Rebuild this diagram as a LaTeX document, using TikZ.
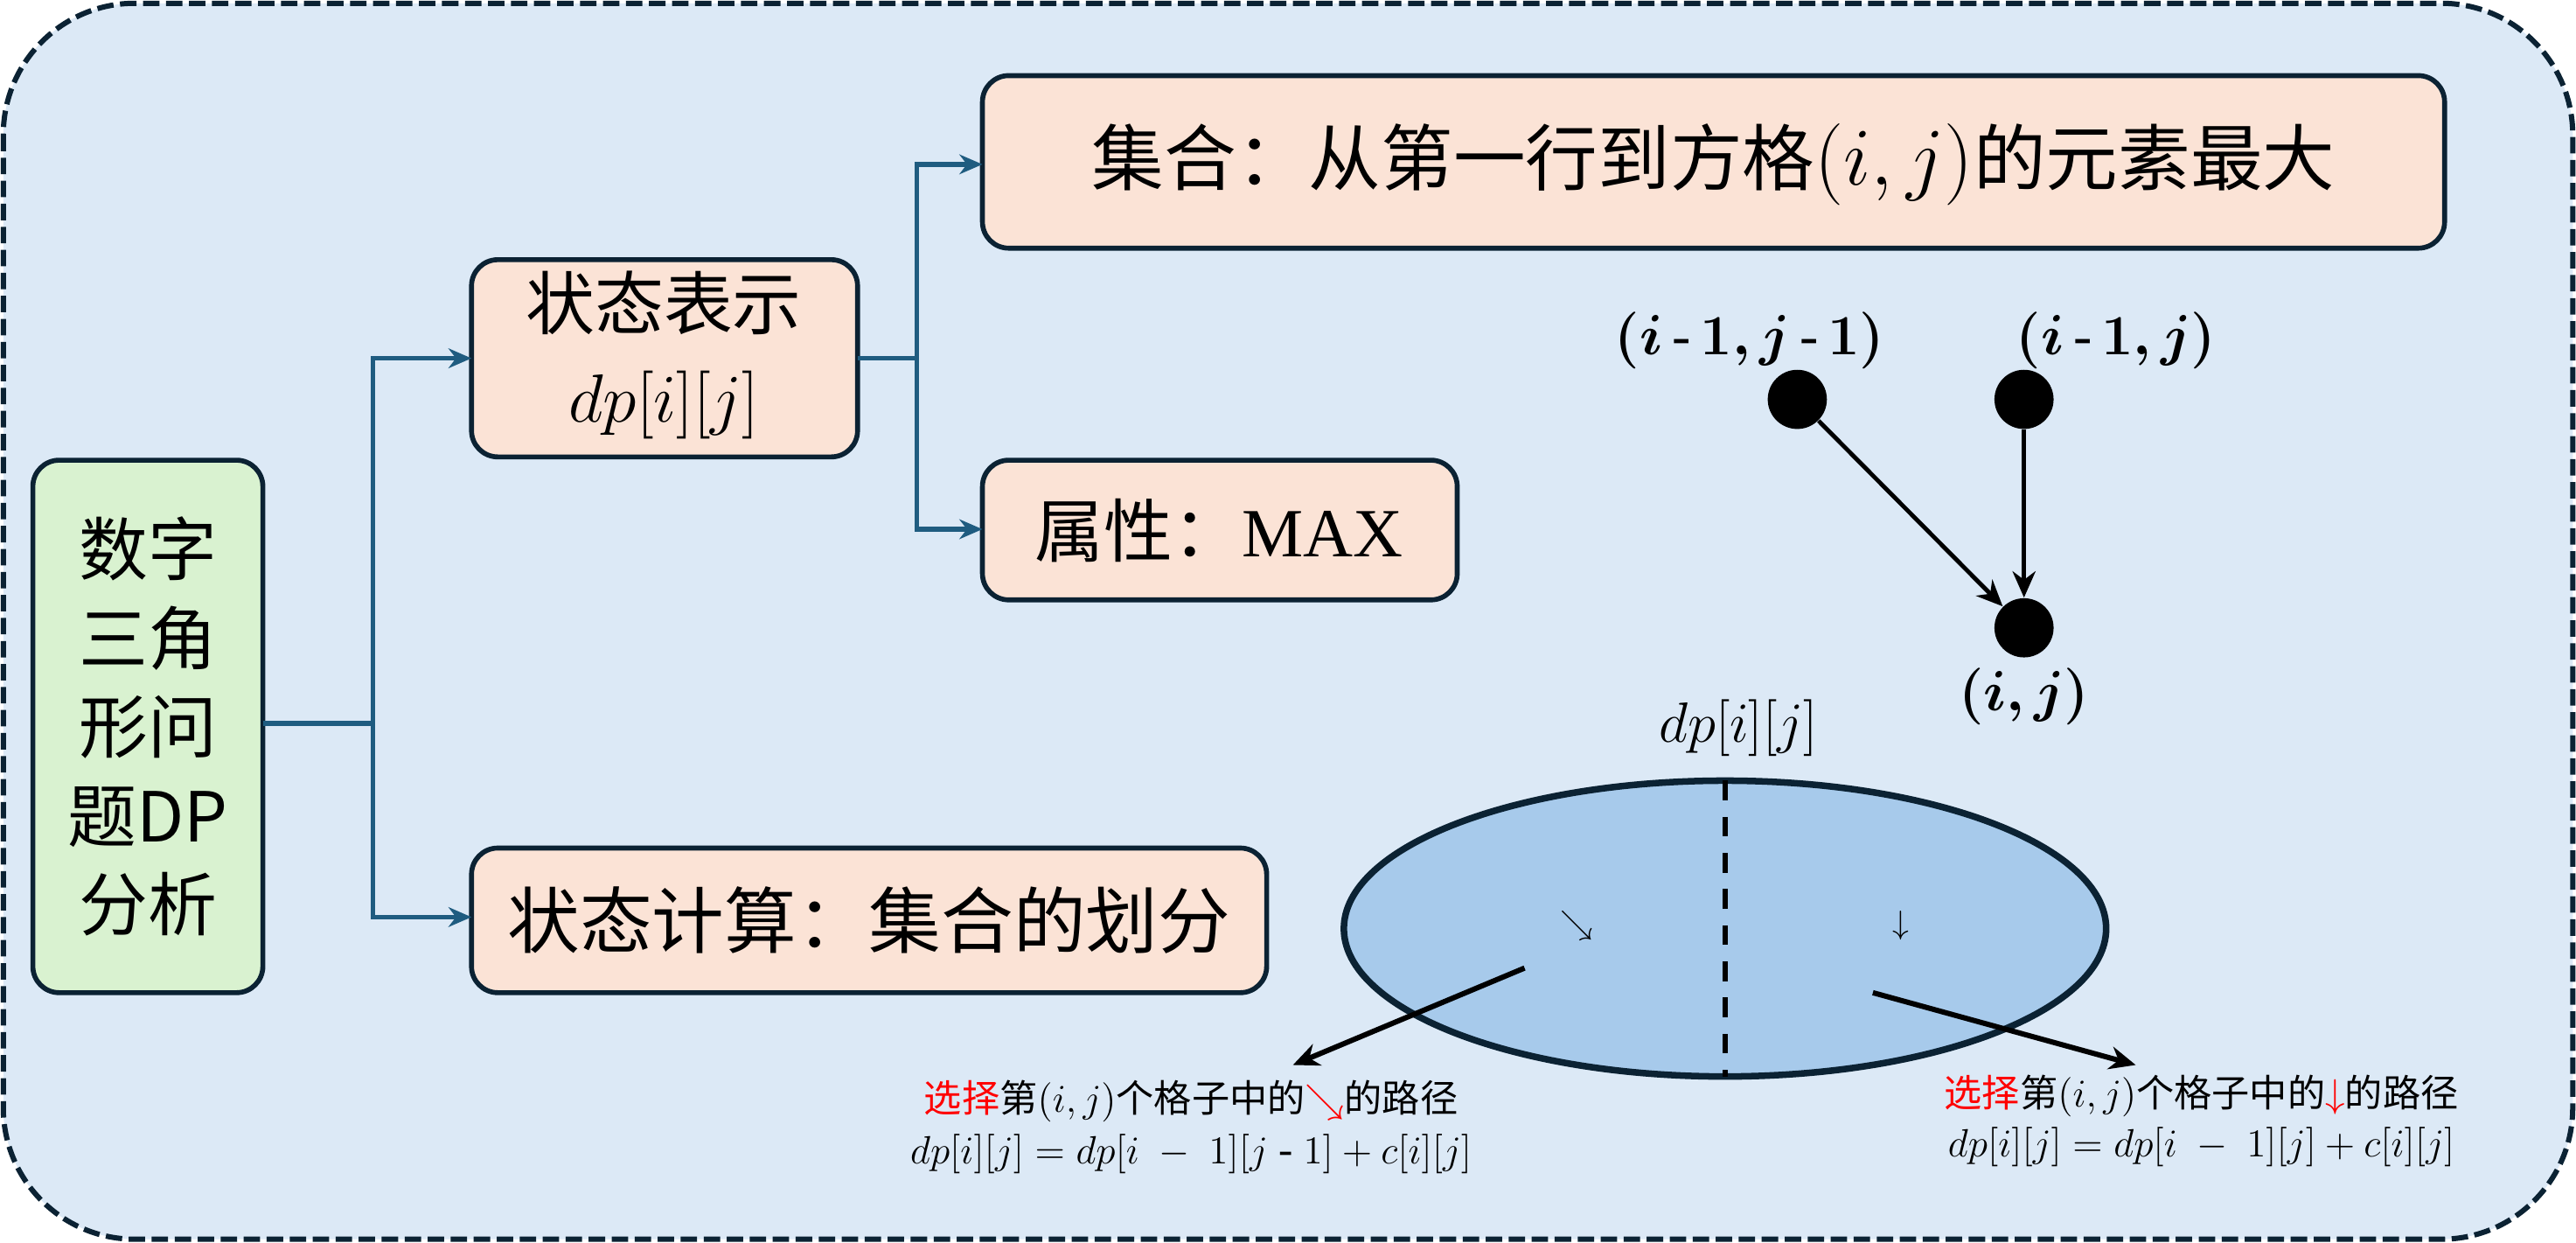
\documentclass[tikz,border=0pt]{standalone}
\usepackage{fontspec}
\usepackage{amsmath,bm}
\setmainfont{Liberation Serif}
\newfontfamily\cjk{Noto Sans CJK SC}
\usetikzlibrary{arrows.meta}
\definecolor{bgc}{HTML}{DCE9F6}
\definecolor{navy}{HTML}{0B2233}
\definecolor{boxc}{HTML}{FBE3D6}
\definecolor{greenc}{HTML}{D9F2D0}
\definecolor{linkc}{HTML}{1F5C80}
\definecolor{ellc}{HTML}{A7CAEB}
\begin{document}
\begin{tikzpicture}[x=0.5pt,y=-0.5pt,
  bx/.style={draw=navy,line width=1.5pt,fill=boxc,rounded corners=8pt},
  lnk/.style={draw=linkc,line width=1.5pt},
  lnka/.style={lnk,-{Stealth[length=7pt,width=6pt]}},
  txt/.style={font=\cjk\fontsize{21}{26}\selectfont,align=center},
  dot/.style={circle,fill=black,minimum size=18pt,inner sep=0pt},
  blk/.style={black,line width=1.3pt,-{Stealth[length=8pt,width=7pt]}},
  lab/.style={font=\fontsize{17}{20}\selectfont},
  small/.style={font=\cjk\fontsize{11.5}{14}\selectfont,align=center},
  smallm/.style={font=\fontsize{13}{15}\selectfont}]
\useasboundingbox (0,0) rectangle (1568,756);
\draw[fill=bgc,draw=navy,line width=1.6pt,dashed,dash pattern=on 5pt off 2pt,rounded corners=40pt] (2,2) rectangle (1566,754);
% boxes
\draw[draw=navy,line width=1.5pt,fill=greenc,rounded corners=8pt] (20,280) rectangle (160,604);
\node[txt,font=\cjk\fontsize{21}{27}\selectfont] (g) at (90,442) {数字\\三角\\形问\\题DP\\分析};
\coordinate (gr) at (160,440);
\draw[bx] (287,158) rectangle (522,278);
\node[txt,font=\cjk\fontsize{21}{28}\selectfont] (s) at (404,216) {状态表示\\$\fontsize{23}{28}\selectfont dp[i][j]$};
\coordinate (sr) at (522,218);
\draw[bx] (598,46) rectangle (1488,151);
\node[txt,font=\cjk\fontsize{22}{26}\selectfont] (j) at (1043,100) {集合：从第一行到方格{\fontsize{24}{26}\selectfont$(i,j)$}的元素最大};
\draw[bx] (598,280) rectangle (887,365);
\node[txt] (m) at (742,323) {属性：{\rmfamily MAX}};
\draw[bx] (287,516) rectangle (771,604);
\node[txt,font=\cjk\fontsize{22}{26}\selectfont] (c) at (529,560) {状态计算：集合的划分};
% connectors
\coordinate (t1) at (287,218); \coordinate (t2) at (287,558);
\coordinate (u1) at (598,100); \coordinate (u2) at (598,322);
\draw[lnk] (gr) -- (227,440);
\draw[lnka] (227,440) |- (t1);
\draw[lnka] (227,440) |- (t2);
\draw[lnk] (sr) -- (558,218);
\draw[lnka] (558,218) |- (u1);
\draw[lnka] (558,218) |- (u2);
% dots
\node[dot] (a) at (1094,243) {};
\node[dot] (b) at (1232,243) {};
\node[dot] (d) at (1232,382) {};
\node[lab] (la) at (1065,207) {$\bm{(i\,\text{-}\,1,j\,\text{-}\,1)}$};
\node[lab] (lb) at (1288,207) {$\bm{(i\,\text{-}\,1,j)}$};
\node[lab] (ld) at (1232,424) {$\bm{(i,j)}$};
\draw[blk] (a) -- (d);
\draw[blk] (b) -- (d);
% ellipse
\draw[fill=ellc,draw=navy,line width=2pt] (1050,565) ellipse [x radius=232, y radius=90];
\draw[black,line width=1.5pt,dashed,dash pattern=on 6pt off 5pt] (1050,475) -- (1050,655);
\node[lab] (top) at (1058,443) {$dp[i][j]$};
\node (sa) at (960,563) {$\searrow$};
\node (sb) at (1157,563) {$\downarrow$};
\coordinate (p1) at (928,589); \coordinate (q1) at (787,648);
\coordinate (p2) at (1140,604); \coordinate (q2) at (1300,648);
\draw[blk,line width=1.6pt] (p1) -- (q1);
\draw[blk,line width=1.6pt] (p2) -- (q2);
% bottom labels
\node[small] (L1) at (725,670) {{\color{red}选择}第{\fontsize{13}{14}\selectfont$(i,j)$}个格子中的{\color{red}$\searrow$}的路径};
\node[smallm] (L2) at (725,702) {$dp[i][j]=dp[i\ -\ 1][j\text{ - }1]+c[i][j]$};
\node[small] (R1) at (1340,667) {{\color{red}选择}第{\fontsize{13}{14}\selectfont$(i,j)$}个格子中的{\color{red}$\downarrow$}的路径};
\node[smallm] (R2) at (1340,698) {$dp[i][j]=dp[i\ -\ 1][j]+c[i][j]$};
\end{tikzpicture}
\end{document}
